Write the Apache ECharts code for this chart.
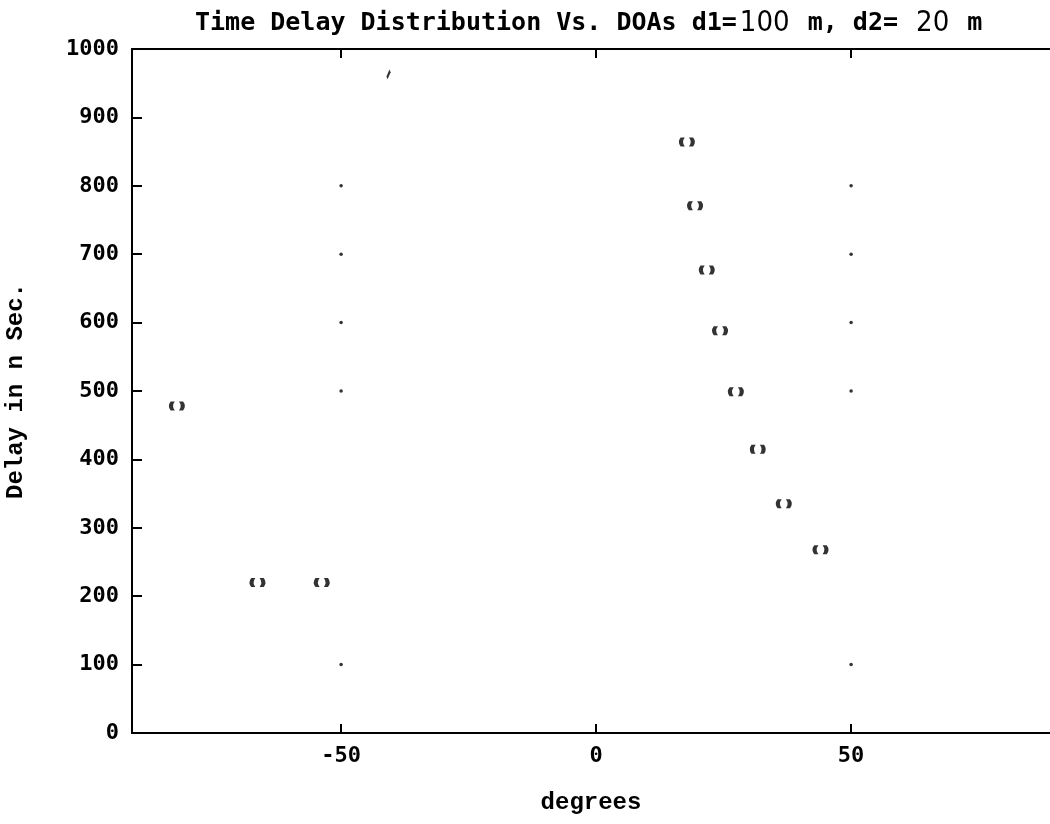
<!DOCTYPE html>
<html>
<head>
<meta charset="utf-8">
<script src="https://cdn.jsdelivr.net/npm/echarts@6/dist/echarts.min.js"></script>
<style>html,body{margin:0;padding:0;background:#fff}#c{width:1050px;height:824px}</style>
</head>
<body>
<div id="c"></div>
<script>
// ---- data ----
const xTicks = [-50, 0, 50];
const yTicks = [0, 100, 200, 300, 400, 500, 600, 700, 800, 900, 1000];
const circlePts = [
  [-82.2, 478], [-66.4, 220], [-53.8, 220],
  [17.8, 864], [19.4, 771], [21.7, 677], [24.3, 588],
  [27.4, 499], [31.7, 415], [36.8, 335], [44.0, 268]
];
const dotPts = [
  [-50, 800], [-50, 700], [-50, 600], [-50, 500], [-50, 100],
  [50, 800], [50, 700], [50, 600], [50, 500], [50, 100]
];
const dashPts = [[-40.7, 963]];
const titleParts = ['Time Delay Distribution Vs. DOAs d1=', '100', ' m, d2= ', '20', ' m'];

const monoB = 'DejaVu Sans Mono';
const chart = echarts.init(document.getElementById('c'), null, {renderer: 'canvas'});
const xMin = -91, xMax = 89;
chart.setOption({
  backgroundColor: '#fff',
  animation: false,
  title: {
    left: 190, top: 4,
    text: titleParts[0] + '{n|' + titleParts[1] + '}' + titleParts[2] + '{n|' + titleParts[3] + '}' + titleParts[4],
    textStyle: {
      fontFamily: monoB, fontWeight: 'bold', fontSize: 25, color: '#000',
      rich: { n: { fontFamily: "'Liberation Sans Narrow','DejaVu Sans Condensed','Liberation Sans',sans-serif", fontWeight: 'normal', fontSize: 29, color: '#000', padding: [0, 3, 0, 3] } }
    }
  },
  grid: { left: 132, right: 0, top: 49, bottom: 91, containLabel: false, outerBoundsMode: 'none' },
  xAxis: [{
    type: 'value', min: xMin, max: xMax, position: 'bottom',
    splitLine: { show: false },
    axisLine: { show: true, onZero: false, lineStyle: { color: '#000', width: 2 } },
    axisTick: { show: true, inside: true, length: 9, customValues: xTicks, lineStyle: { color: '#000', width: 2 } },
    axisLabel: { customValues: xTicks, margin: 12, fontFamily: monoB, fontWeight: 'bold', fontSize: 22, color: '#000', formatter: v => String(v) },
    name: 'degrees', nameLocation: 'middle', nameGap: 58,
    nameTextStyle: { fontFamily: 'Liberation Mono', fontWeight: 'bold', fontSize: 24, color: '#000' }
  }, {
    type: 'value', min: xMin, max: xMax, position: 'top',
    splitLine: { show: false },
    axisLine: { show: true, onZero: false, lineStyle: { color: '#000', width: 2 } },
    axisTick: { show: true, inside: true, length: 9, customValues: xTicks, lineStyle: { color: '#000', width: 2 } },
    axisLabel: { show: false }
  }],
  yAxis: {
    type: 'value', min: 0, max: 1000,
    splitLine: { show: false },
    axisLine: { show: true, onZero: false, lineStyle: { color: '#000', width: 2 } },
    axisTick: { show: true, inside: true, length: 10, customValues: yTicks, lineStyle: { color: '#000', width: 2 } },
    axisLabel: { customValues: yTicks, margin: 13, fontFamily: monoB, fontWeight: 'bold', fontSize: 22, color: '#000', formatter: v => String(v) },
    name: 'Delay in n Sec.', nameLocation: 'middle', nameGap: 104, nameRotate: 90,
    nameTextStyle: { fontFamily: 'Liberation Mono', fontWeight: 'bold', fontSize: 24, color: '#000' }
  },
  series: [{
    type: 'scatter', data: circlePts,
    symbol: 'path://M2.5,0 L5.5,0 Q3,5 5.5,10 L2.5,10 Q0,5 2.5,0 Z M11.5,0 L8.5,0 Q11,5 8.5,10 L11.5,10 Q14,5 11.5,0 Z',
    symbolSize: [16, 9],
    itemStyle: { color: '#000' }
  }, {
    type: 'scatter', data: dotPts, symbol: 'circle', symbolSize: 3.5,
    itemStyle: { color: '#000' }
  }, {
    type: 'scatter', data: dashPts,
    symbol: 'path://M0,6 L3,0', symbolSize: [3, 7],
    itemStyle: { color: 'rgba(0,0,0,0)', borderColor: '#000', borderWidth: 2.5 }
  }]
});
</script>
</body>
</html>
